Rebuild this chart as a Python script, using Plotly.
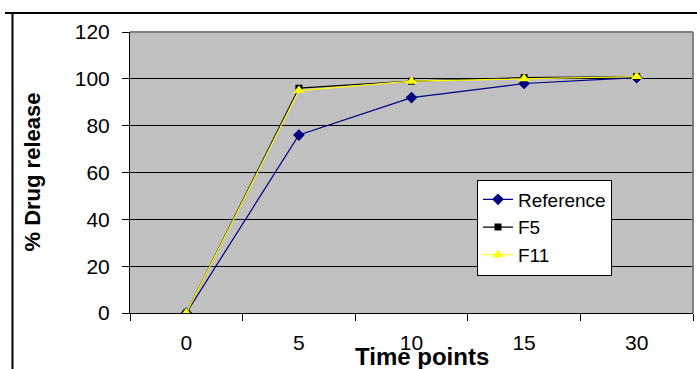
import plotly.graph_objects as go

# Dissolution profile data
time_points = ["0", "5", "10", "15", "30"]
reference = [0, 76, 92, 98, 100.5]
f5 = [0, 96, 99, 100.5, 101]
f11 = [0, 95, 99, 100, 101]
y_ticks = [0, 20, 40, 60, 80, 100, 120]

FONT = "Liberation Sans, Arial, sans-serif"

fig = go.Figure()
series = [
    ("Reference", reference, "#000080", "diamond", 9),
    ("F5", f5, "#000000", "square", 7),
    ("F11", f11, "#FFFF00", "triangle-up", 10),
]
for name, vals, color, symbol, size in series:
    fig.add_trace(go.Scatter(
        x=time_points, y=vals, name=name, mode="lines+markers",
        line=dict(color=color, width=1.2),
        marker=dict(symbol=symbol, size=size, color=color, line=dict(width=0)),
        legendgroup=name,
    ))

fig.update_layout(
    width=697, height=369,
    margin=dict(l=130, r=4, t=32, b=56),
    paper_bgcolor="white",
    plot_bgcolor="#C0C0C0",
    font=dict(family=FONT, color="black", size=21),
    showlegend=True,
    legend=dict(
        x=(477 - 130) / 563, y=(313 - 179.5) / 281, xanchor="left", yanchor="top",
        bgcolor="white", bordercolor="black", borderwidth=1,
        font=dict(family=FONT, size=19, color="black"),
        tracegroupgap=0, entrywidth=100, entrywidthmode="pixels",
    ),
)

fig.update_xaxes(
    type="category", range=[-0.5, 4.5], tickson="boundaries",
    ticks="outside", ticklen=7, tickcolor="black", tickwidth=1,
    showline=True, linecolor="black", linewidth=1,
    showgrid=False, ticklabelstandoff=11,
    tickfont=dict(size=21),
)
fig.update_yaxes(
    range=[0, 120], tickvals=y_ticks,
    ticks="outside", ticklen=7, tickcolor="black", tickwidth=1,
    showline=True, linecolor="black", linewidth=1,
    showgrid=True, gridcolor="black", gridwidth=1,
    zeroline=False, ticklabelstandoff=8,
    tickfont=dict(size=21),
)

# Gray frame on the top and right of the plot area
fig.add_shape(type="line", xref="paper", yref="paper", x0=0, x1=1, y0=1, y1=1,
              line=dict(color="#808080", width=2), layer="above")
fig.add_shape(type="line", xref="paper", yref="paper", x0=1, x1=1, y0=0, y1=1,
              line=dict(color="#808080", width=2), layer="above")

# Outer frame lines (top and left)
fig.add_shape(type="line", xref="paper", yref="paper", x0=-0.222, x1=1.01,
              y0=1.0676, y1=1.0676, line=dict(color="black", width=2))
fig.add_shape(type="line", xref="paper", yref="paper", x0=-0.2087, x1=-0.2087,
              y0=1.0676, y1=-0.25, line=dict(color="black", width=2))

# Axis titles
fig.add_annotation(text="<b>Time points</b>", xref="paper", yref="paper",
                   x=(422 - 130) / 563, y=(313 - 356) / 281,
                   xanchor="center", yanchor="middle",
                   showarrow=False, font=dict(size=24, family=FONT))
fig.add_annotation(text="<b>% Drug release</b>", xref="paper", yref="paper",
                   x=(32 - 130) / 563, y=(313 - 172.5) / 281, textangle=-90,
                   xanchor="center", yanchor="middle",
                   showarrow=False, font=dict(size=22, family=FONT))

fig.write_html("out.html")
